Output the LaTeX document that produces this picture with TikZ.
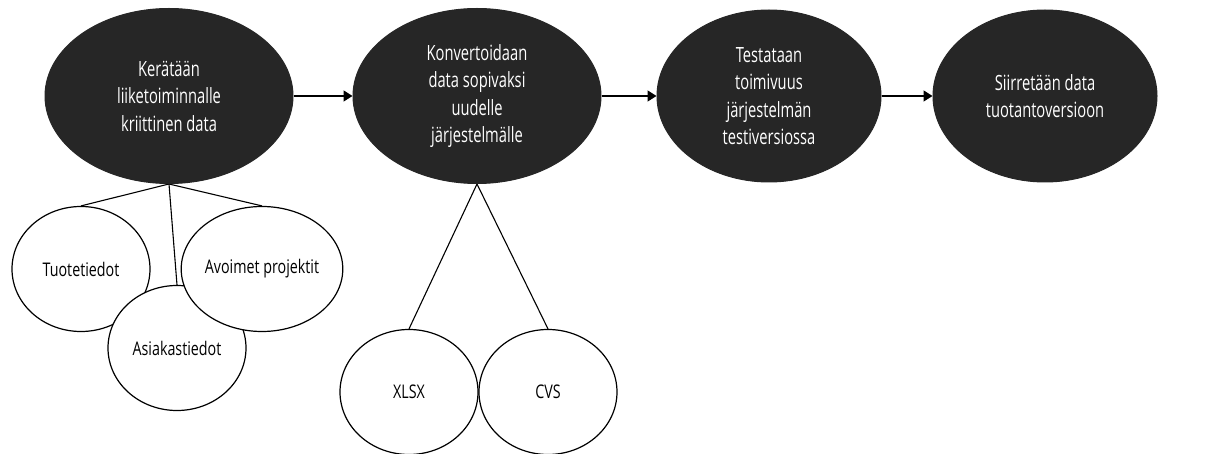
\documentclass[tikz,border=0pt]{standalone}
\usepackage{fontspec}
\setmainfont{Open Sans}
\newfontfamily\narrowfont[FakeStretch=0.76]{Open Sans}
\newfontfamily\steptextfont[FakeStretch=0.70]{Open Sans}
\usetikzlibrary{shapes.geometric,arrows.meta,backgrounds}
\definecolor{stepfill}{HTML}{262626}
\tikzset{
  x=1pt, y=-1pt,
  stepnode/.style={ellipse, fill=stepfill, draw=stepfill, line width=1pt, inner sep=0pt,
    text=white, align=center, font=\steptextfont\fontsize{21}{27.5}\selectfont},
  subnode/.style={ellipse, draw=black, fill=white, line width=1.2pt, inner sep=0pt,
    minimum width=138pt, minimum height=125pt, align=center,
    font=\narrowfont\fontsize{18.8}{24}\selectfont},
  flow/.style={line width=1.5pt, -{Triangle[length=9pt,width=11pt]}},
  link/.style={line width=1.1pt}
}
\begin{document}
\begin{tikzpicture}
\useasboundingbox (0,0) rectangle (1221,454);

% main process steps
\node[stepnode, minimum width=248pt, minimum height=175pt] (s1) at (169,96)
  {Kerätään\\liiketoiminnalle\\kriittinen data};
\node[stepnode, minimum width=248pt, minimum height=175pt] (s2) at (477,96)
  {Konvertoidaan\\data sopivaksi\\uudelle\\järjestelmälle};
\node[stepnode, minimum width=224pt, minimum height=172pt] (s3) at (769,96)
  {Testataan\\toimivuus\\järjestelmän\\testiversiossa};
\node[stepnode, minimum width=224pt, minimum height=172pt] (s4) at (1045,96)
  {Siirretään data\\tuotantoversioon};

% sub items of the first step
\node[subnode] (t1) at (81,269) {Tuotetiedot};
\node[subnode] (t2) at (177,348) {Asiakastiedot};
\node[subnode] (t3) at (262,269) {Avoimet projektit};

% file formats of the second step
\node[subnode] (f1) at (409,392) {XLSX};
\node[subnode] (f2) at (548,392) {CVS};

% flow arrows
\draw[flow] (s1.east) -- (s2.west);
\draw[flow] (s2.east) -- (s3.west);
\draw[flow] (s3.east) -- (s4.west);

% white page and the links to sub items, behind everything else
\begin{scope}[on background layer]
\fill[white] (0,0) rectangle (1221,454);
\draw[link] (s1.south) -- (t1.north);
\draw[link] (s1.south) -- (t2.north);
\draw[link] (s1.south) -- (t3.north);
\draw[link] (s2.south) -- (f1.north);
\draw[link] (s2.south) -- (f2.north);
\end{scope}
\end{tikzpicture}
\end{document}
